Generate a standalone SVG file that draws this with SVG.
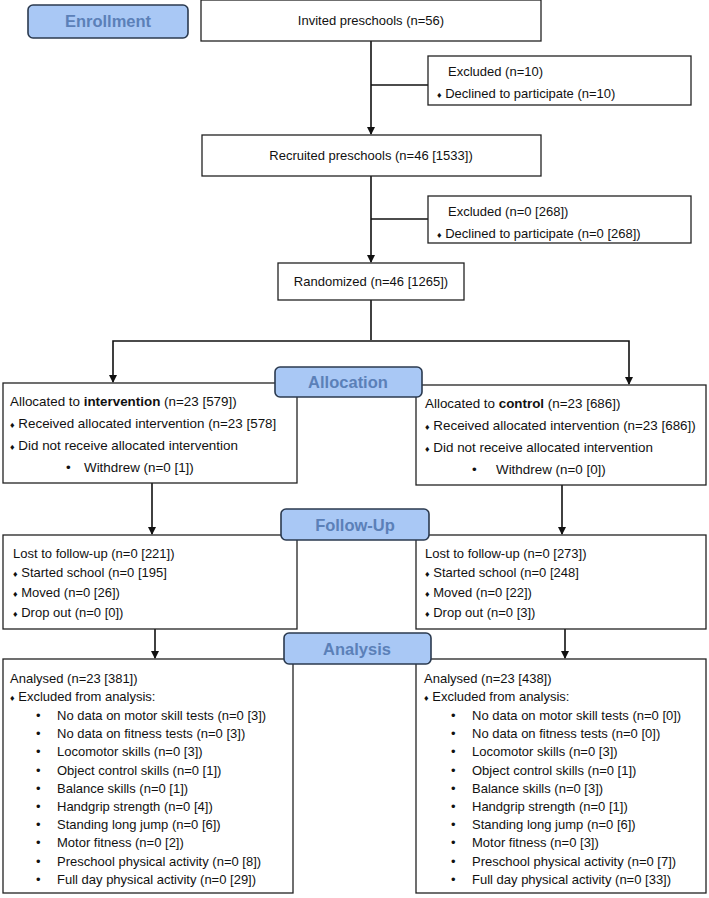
<svg xmlns="http://www.w3.org/2000/svg" width="709" height="898" viewBox="0 0 709 898">
<style>
.b{fill:#fff;stroke:#222;stroke-width:1.3}
.l{fill:#a9c8f5;stroke:#2b3a4f;stroke-width:1.6}
.lt{font:bold 16.5px "Liberation Sans",Arial,sans-serif;fill:#5b80b8;text-anchor:middle}
text{font-family:"Liberation Sans",Arial,sans-serif;font-size:13px;fill:#111}
.a text{font-size:13.4px}
.d{font-size:9px}
.c{text-anchor:middle}
.k line,.k polyline{stroke:#111;stroke-width:1.6;fill:none}
</style>
<defs><marker id="a" markerWidth="8" markerHeight="8" refX="7" refY="4" orient="auto" markerUnits="userSpaceOnUse"><path d="M0,0L8,4L0,8z" fill="#111"/></marker></defs>
<g class="k">
<line x1="371" y1="41" x2="371" y2="134" marker-end="url(#a)"/>
<line x1="371" y1="85" x2="428" y2="85"/>
<line x1="371" y1="175" x2="371" y2="262" marker-end="url(#a)"/>
<line x1="371" y1="219" x2="428" y2="219"/>
<line x1="371" y1="300" x2="371" y2="340"/>
<polyline points="113,372 113,341 629,341 629,372"/>
<line x1="113" y1="372" x2="113" y2="382" marker-end="url(#a)"/>
<line x1="629" y1="372" x2="629" y2="384" marker-end="url(#a)"/>
<line x1="152" y1="483" x2="152" y2="534" marker-end="url(#a)"/>
<line x1="562" y1="485" x2="562" y2="534" marker-end="url(#a)"/>
<line x1="155" y1="629" x2="155" y2="658" marker-end="url(#a)"/>
<line x1="565" y1="629" x2="565" y2="658" marker-end="url(#a)"/>
</g>
<g id="enroll"><rect class="l" x="28" y="5" width="160" height="33" rx="5"/><text class="lt" x="108" y="27">Enrollment</text></g>
<g id="invited"><rect class="b" x="201" y="0" width="340" height="41"/><text class="c" x="371" y="25">Invited preschools (n=56)</text></g>
<g id="ex1"><rect class="b" x="428" y="56" width="263" height="49"/><text x="448" y="76">Excluded (n=10)</text><text x="437" y="98"><tspan class="d">♦</tspan> Declined to participate (n=10)</text></g>
<g id="recruited"><rect class="b" x="202" y="135" width="339" height="41"/><text class="c" x="371" y="160">Recruited preschools (n=46 [1533])</text></g>
<g id="ex2"><rect class="b" x="428" y="196" width="263" height="47"/><text x="448" y="216">Excluded (n=0 [268])</text><text x="437" y="238"><tspan class="d">♦</tspan> Declined to participate (n=0 [268])</text></g>
<g id="rand"><rect class="b" x="278" y="263" width="186" height="37"/><text class="c" x="371" y="286">Randomized (n=46 [1265])</text></g>
<g id="allocI" class="a"><rect class="b" x="3" y="383" width="294" height="100"/>
<text x="10" y="406">Allocated to <tspan font-weight="bold">intervention</tspan> (n=23 [579])</text>
<text x="10" y="428"><tspan class="d">♦</tspan> Received allocated intervention (n=23 [578]</text>
<text x="10" y="450"><tspan class="d">♦</tspan> Did not receive allocated intervention</text>
<text x="66" y="472">•</text><text x="84" y="472">Withdrew (n=0 [1])</text></g>
<g id="allocC" class="a"><rect class="b" x="416" y="385" width="290" height="100"/>
<text x="425" y="408">Allocated to <tspan font-weight="bold">control</tspan> (n=23 [686])</text>
<text x="425" y="430"><tspan class="d">♦</tspan> Received allocated intervention (n=23 [686])</text>
<text x="425" y="452"><tspan class="d">♦</tspan> Did not receive allocated intervention</text>
<text x="472" y="474">•</text><text x="496" y="474">Withdrew (n=0 [0])</text></g>
<g id="allocLabel"><rect class="l" x="275" y="367" width="147" height="30" rx="5"/><text class="lt" x="348" y="388">Allocation</text></g>
<g id="fuI"><rect class="b" x="3" y="535" width="294" height="94"/>
<text x="13" y="558">Lost to follow-up (n=0 [221])</text>
<text x="13" y="577"><tspan class="d">♦</tspan> Started school (n=0 [195]</text>
<text x="13" y="597"><tspan class="d">♦</tspan> Moved (n=0 [26])</text>
<text x="13" y="617"><tspan class="d">♦</tspan> Drop out (n=0 [0])</text></g>
<g id="fuC"><rect class="b" x="416" y="535" width="290" height="94"/>
<text x="425" y="558">Lost to follow-up (n=0 [273])</text>
<text x="425" y="577"><tspan class="d">♦</tspan> Started school (n=0 [248]</text>
<text x="425" y="597"><tspan class="d">♦</tspan> Moved (n=0 [22])</text>
<text x="425" y="617"><tspan class="d">♦</tspan> Drop out (n=0 [3])</text></g>
<g id="fuLabel"><rect class="l" x="281" y="509" width="148" height="31" rx="5"/><text class="lt" x="355" y="531">Follow-Up</text></g>
<g id="anI"><rect class="b" x="3" y="659" width="290" height="234"/>
<text x="10" y="683">Analysed (n=23 [381])</text>
<text x="10" y="701"><tspan class="d">♦</tspan> Excluded from analysis:</text>
<g><text x="36" y="720">•</text><text x="57" y="720">No data on motor skill tests (n=0 [3])</text>
<text x="36" y="738">•</text><text x="57" y="738">No data on fitness tests (n=0 [3])</text>
<text x="36" y="756">•</text><text x="57" y="756">Locomotor skills (n=0 [3])</text>
<text x="36" y="775">•</text><text x="57" y="775">Object control skills (n=0 [1])</text>
<text x="36" y="793">•</text><text x="57" y="793">Balance skills (n=0 [1])</text>
<text x="36" y="811">•</text><text x="57" y="811">Handgrip strength (n=0 [4])</text>
<text x="36" y="829">•</text><text x="57" y="829">Standing long jump (n=0 [6])</text>
<text x="36" y="847">•</text><text x="57" y="847">Motor fitness (n=0 [2])</text>
<text x="36" y="866">•</text><text x="57" y="866">Preschool physical activity (n=0 [8])</text>
<text x="36" y="884">•</text><text x="57" y="884">Full day physical activity (n=0 [29])</text></g></g>
<g id="anC"><rect class="b" x="416" y="659" width="290" height="234"/>
<text x="424" y="683">Analysed (n=23 [438])</text>
<text x="424" y="701"><tspan class="d">♦</tspan> Excluded from analysis:</text>
<g><text x="451" y="720">•</text><text x="472" y="720">No data on motor skill tests (n=0 [0])</text>
<text x="451" y="738">•</text><text x="472" y="738">No data on fitness tests (n=0 [0])</text>
<text x="451" y="756">•</text><text x="472" y="756">Locomotor skills (n=0 [3])</text>
<text x="451" y="775">•</text><text x="472" y="775">Object control skills (n=0 [1])</text>
<text x="451" y="793">•</text><text x="472" y="793">Balance skills (n=0 [3])</text>
<text x="451" y="811">•</text><text x="472" y="811">Handgrip strength (n=0 [1])</text>
<text x="451" y="829">•</text><text x="472" y="829">Standing long jump (n=0 [6])</text>
<text x="451" y="847">•</text><text x="472" y="847">Motor fitness (n=0 [3])</text>
<text x="451" y="866">•</text><text x="472" y="866">Preschool physical activity (n=0 [7])</text>
<text x="451" y="884">•</text><text x="472" y="884">Full day physical activity (n=0 [33])</text></g></g>
<g id="anLabel"><rect class="l" x="284" y="633" width="147" height="31" rx="5"/><text class="lt" x="357" y="655">Analysis</text></g>
</svg>
